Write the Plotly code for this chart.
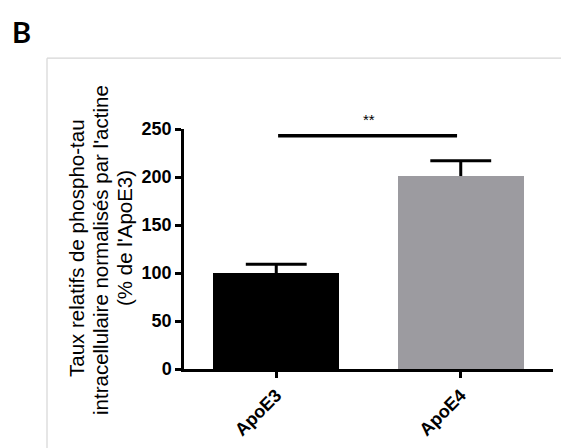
import plotly.graph_objects as go

# ---- data ----
groups = ["ApoE3", "ApoE4"]
means = [100, 201]
sem = [9, 16]
bar_colors = ["#000000", "#9c9ba0"]
y_ticks = [0, 50, 100, 150, 200, 250]
y_title_lines = [
    "Taux relatifs de phospho-tau",
    "intracellulaire normalisés par l'actine",
    "(% de l'ApoE3)",
]
sig_label = "**"
sig_level = 243
panel_label = "B"

W, H = 561, 448
L, R, T, B = 184, 8, 129, 75
plot_w = W - L - R
plot_h = H - T - B


def px_to_paper_x(px):
    return (px - L) / plot_w


def px_to_paper_y(py):
    return (H - B - py) / plot_h


fig = go.Figure()
fig.add_trace(go.Bar(
    x=[0, 1],
    y=means,
    width=0.685,
    marker=dict(color=bar_colors, line=dict(width=0)),
    showlegend=False,
    hoverinfo="skip",
))

# upward-only error bars (SEM) built from the data arrays
cap_half = 0.165
ex, ey = [], []
for i, (m, s) in enumerate(zip(means, sem)):
    ex += [i, i, None, i - cap_half, i + cap_half, None]
    ey += [m, m + s, None, m + s, m + s, None]
fig.add_trace(go.Scatter(x=ex, y=ey, mode="lines",
                         line=dict(color="#000000", width=3),
                         showlegend=False, hoverinfo="skip", cliponaxis=False))

axis_font = dict(family="Liberation Sans, Arial, sans-serif", size=18,
                 color="#000000", weight="bold")

fig.update_layout(
    width=W, height=H,
    margin=dict(l=L, r=R, t=T, b=B, pad=0),
    paper_bgcolor="white", plot_bgcolor="white",
    bargap=0,
    xaxis=dict(
        range=[-0.5, 1.5], tickmode="array", tickvals=[0, 1], ticktext=groups,
        tickangle=-45, showline=True, linecolor="#000000", linewidth=2.5,
        ticks="outside", ticklen=6, tickwidth=2.5, tickcolor="#000000",
        showgrid=False, zeroline=False, tickfont=axis_font, fixedrange=True,
    ),
    yaxis=dict(
        range=[0, 250], tickmode="array", tickvals=y_ticks,
        ticktext=[str(v) for v in y_ticks],
        showline=True, linecolor="#000000", linewidth=2.5,
        ticks="outside", ticklen=6, tickwidth=2.5, tickcolor="#000000",
        showgrid=False, zeroline=False, tickfont=axis_font, fixedrange=True,
    ),
)

# significance bar
fig.add_shape(type="line", xref="x", yref="y", x0=0.01, x1=0.98,
              y0=sig_level, y1=sig_level,
              line=dict(color="#000000", width=3.5))
fig.add_annotation(x=0.5, y=sig_level + 6, xref="x", yref="y", text=sig_label,
                   showarrow=False, yanchor="bottom", xanchor="center",
                   font=dict(family="Liberation Sans, Arial, sans-serif",
                             size=15, color="#000000"))

# y-axis title (three rotated lines)
title_x_px = [76, 100, 124]
title_shift = [1, -1, 11]
for line, xp, ys in zip(y_title_lines, title_x_px, title_shift):
    fig.add_annotation(x=px_to_paper_x(xp), y=0.5, xref="paper", yref="paper",
                       text=line, textangle=-90, showarrow=False,
                       xanchor="center", yanchor="middle", yshift=ys,
                       font=dict(family="Liberation Sans, Arial, sans-serif",
                                 size=20.5, color="#000000"))

# panel border (light gray)
bx = px_to_paper_x(47)
by = px_to_paper_y(57)
fig.add_shape(type="line", xref="paper", yref="paper", x0=bx, x1=px_to_paper_x(561),
              y0=by, y1=by, line=dict(color="#d6d6d6", width=1.2))
fig.add_shape(type="line", xref="paper", yref="paper", x0=bx, x1=bx,
              y0=by, y1=px_to_paper_y(460), line=dict(color="#d6d6d6", width=1.2))

# panel label
fig.add_annotation(x=px_to_paper_x(10), y=px_to_paper_y(30), xref="paper", yref="paper",
                   text=panel_label, showarrow=False, xanchor="left", yanchor="middle",
                   font=dict(family="Lato, Open Sans, sans-serif", size=29,
                             color="#000000", weight="bold"))

fig.write_html("out.html", config={"displayModeBar": False},
               post_script="document.body.style.margin='0';document.body.style.overflow='hidden';")
